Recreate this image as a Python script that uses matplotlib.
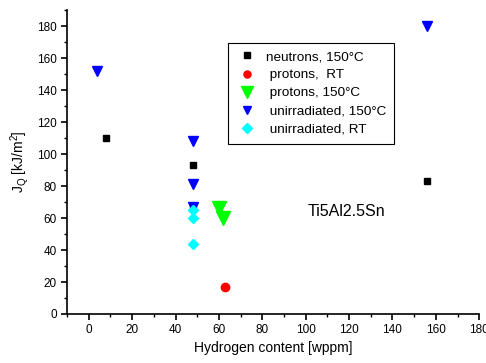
import matplotlib
matplotlib.use('Agg')
import matplotlib.pyplot as plt
from matplotlib.ticker import MultipleLocator

plt.rcParams['font.family'] = ['Liberation Sans', 'DejaVu Sans']

# --- Data ---
neutrons_x = [8, 48, 48, 156]
neutrons_y = [110, 93, 67, 83]

protons_rt_x = [63]
protons_rt_y = [17]

protons_150_x = [60, 62]
protons_150_y = [66, 60]

unirr_150_x = [4, 48, 48, 48, 156]
unirr_150_y = [152, 108, 81, 67, 180]

unirr_rt_x = [48, 48, 48]
unirr_rt_y = [65, 60, 44]

x_ticks = [0, 20, 40, 60, 80, 100, 120, 140, 160, 180]
y_ticks = [0, 20, 40, 60, 80, 100, 120, 140, 160, 180]

fig = plt.figure(figsize=(4.86, 3.63), dpi=100)
ax = fig.add_axes([0.138, 0.135, 0.848, 0.837])

ax.plot(neutrons_x, neutrons_y, 's', color='black', ms=5, label='neutrons, 150°C', zorder=3)
ax.plot(protons_rt_x, protons_rt_y, 'o', color='red', ms=6, label=' protons,  RT', zorder=3)
ax.plot(protons_150_x, protons_150_y, 'v', color='#00ff00', ms=9.5, label=' protons, 150°C', zorder=3)
ax.plot(unirr_150_x, unirr_150_y, 'v', color='#0000ff', ms=6.5, label=' unirradiated, 150°C', zorder=4)
ax.plot(unirr_rt_x, unirr_rt_y, 'D', color='cyan', ms=5.5, label=' unirradiated, RT', zorder=5)

ax.set_xlim(-10, 180)
ax.set_ylim(0, 190)
ax.set_xticks(x_ticks)
ax.set_yticks(y_ticks)
ax.xaxis.set_minor_locator(MultipleLocator(10))
ax.yaxis.set_minor_locator(MultipleLocator(10))

for side in ['top', 'right']:
    ax.spines[side].set_visible(False)
for side in ['left', 'bottom']:
    ax.spines[side].set_linewidth(1.2)

ax.tick_params(which='major', direction='out', length=4, width=1.2, labelsize=8.5)
ax.tick_params(which='minor', direction='out', length=2.5, width=1.0)

ax.set_xlabel('Hydrogen content [wppm]', fontsize=10, labelpad=3)
ax.set_ylabel('J$_\\mathregular{Q}$ [kJ/m$^\\mathregular{2}$]', fontsize=10, labelpad=4)

ax.text(101, 61, 'Ti5Al2.5Sn', fontsize=11.5)

leg = ax.legend(loc='upper left', bbox_to_anchor=(0.391, 0.893), fontsize=9.7,
                frameon=True, fancybox=False, edgecolor='black', framealpha=1,
                handletextpad=0.6, labelspacing=0.42, borderpad=0.6,
                handlelength=1.6, borderaxespad=0, markerscale=0.85)
leg.get_frame().set_linewidth(0.8)

fig.savefig('out.png', dpi=100)
